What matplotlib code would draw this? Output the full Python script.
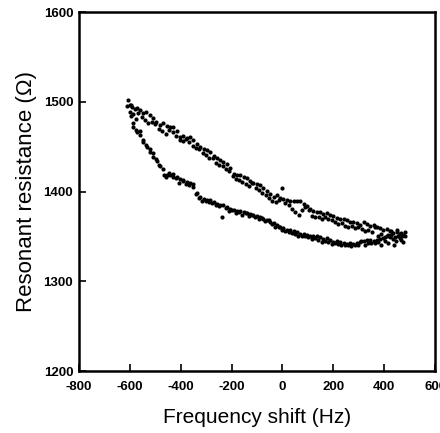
import numpy as np
import matplotlib
matplotlib.use('Agg')
import matplotlib.pyplot as plt

plt.rcParams['font.family'] = ['Liberation Sans', 'DejaVu Sans']

# 上支路 (频移增大方向)
up_x = [-607, -598, -590, -580, -571, -559, -548, -535, -520, -507, -495, -480, -468, -455,
        -440, -428, -415, -402, -390, -376, -363, -350, -336, -323, -310, -297, -284, -270,
        -258, -245, -232, -219, -205, -192, -178, -165, -152, -140, -126, -114, -101, -88,
        -75, -62, -48, -35, -22, -9, 4, 17, 30, 44, 57, 70, 83, 96, 109, 122, 135, 148, 161,
        174, 187, 200, 214, 227, 240, 253, 266, 279, 292, 306, 319, 332, 345, 358, 371, 384,
        397, 410, 423, 436, 449, 462, 472]
up_y = [1502, 1497, 1494, 1492, 1493, 1491, 1488, 1489, 1485, 1482, 1478, 1474, 1476, 1473,
        1472, 1472, 1467, 1461, 1462, 1460, 1461, 1457, 1453, 1450, 1448, 1446, 1444, 1440,
        1437, 1435, 1433, 1431, 1426, 1420, 1419, 1418, 1416, 1415, 1412, 1410, 1409, 1407,
        1404, 1401, 1397, 1394, 1396, 1393, 1392, 1391, 1390, 1389, 1390, 1389, 1386, 1384,
        1381, 1378, 1377, 1377, 1375, 1376, 1374, 1373, 1371, 1370, 1369, 1368, 1366, 1366,
        1365, 1363, 1366, 1364, 1362, 1363, 1360, 1359, 1357, 1358, 1356, 1354, 1355, 1353,
        1352]

# 上支路第二组采样点
up2_x = [-596, -588, -575, -566, -553, -541, -528, -514, -499, -486,
         -472, -458, -444, -430, -417, -404, -391, -378, -365, -352,
         -339, -326, -313, -300, -287, -274, -261, -248, -235, -222,
         -209, -196, -183, -170, -157, -144, -131, -118, -105, -92,
         -79, -66, -53, -40, -27, -14, -1, 12, 25, 38,
         51, 64, 77, 90, 103, 116, 129, 142, 155, 168,
         181, 194, 207, 220, 233, 246, 259, 272, 285, 298,
         311, 324, 337, 350, 363, 376, 389, 402, 415, 428,
         441, 454, 467, 480]
up2_y = [1497, 1486, 1481, 1488, 1483, 1480, 1476, 1478, 1475, 1470,
         1468, 1464, 1469, 1466, 1462, 1458, 1456, 1459, 1455, 1451,
         1449, 1447, 1443, 1441, 1438, 1437, 1432, 1430, 1429, 1425,
         1423, 1417, 1414, 1413, 1411, 1408, 1406, 1410, 1404, 1402,
         1398, 1396, 1393, 1390, 1388, 1391, 1404, 1387, 1385, 1381,
         1377, 1374, 1379, 1383, 1379, 1373, 1372, 1372, 1370, 1372,
         1369, 1368, 1366, 1364, 1365, 1362, 1360, 1362, 1359, 1361,
         1358, 1356, 1357, 1355, 1360, 1351, 1353, 1349, 1352, 1356,
         1349, 1351, 1346, 1355]

# 下支路 (频移减小方向)
dn_x = [480, 470, 460, 448, 436, 423, 410, 397, 384, 371, 358, 345, 332, 319, 306, 292,
        279, 266, 253, 240, 227, 214, 200, 187, 174, 161, 148, 135, 122, 109, 96, 83, 70,
        57, 44, 30, 17, 4, -9, -22, -35, -48, -62, -75, -88, -101, -114, -126, -140, -152,
        -165, -178, -192, -205, -219, -232, -245, -258, -270, -284, -297, -310, -323, -336,
        -350, -363, -376, -389, -402, -415, -428, -440, -455, -467, -480, -494, -507, -520,
        -533, -546, -559, -572, -585, -596, -611]
dn_y = [1350, 1351, 1348, 1345, 1347, 1349, 1350, 1348, 1347, 1346, 1345, 1346, 1346, 1345,
        1344, 1343, 1342, 1343, 1342, 1343, 1344, 1345, 1344, 1346, 1348, 1347, 1349, 1350,
        1350, 1351, 1352, 1353, 1353, 1355, 1356, 1357, 1357, 1359, 1361, 1363, 1365, 1366,
        1368, 1370, 1372, 1373, 1374, 1375, 1376, 1377, 1378, 1378, 1379, 1381, 1383, 1385,
        1385, 1386, 1388, 1391, 1391, 1392, 1394, 1398, 1409, 1410, 1411, 1413, 1414, 1416,
        1420, 1419, 1418, 1418, 1428, 1434, 1439, 1444, 1450, 1455, 1463, 1466, 1472, 1484,
        1495]

# 下支路第二组采样点
dn2_x = [475, 465, 452, 440, 427, 414, 401, 388, 375, 362,
         349, 336, 323, 310, 297, 284, 271, 258, 245, 232,
         219, 206, 193, 180, 167, 154, 141, 128, 115, 102,
         89, 76, 63, 50, 37, 24, 11, -2, -15, -28,
         -41, -54, -67, -80, -93, -106, -119, -132, -145, -158,
         -171, -184, -197, -210, -223, -236, -249, -262, -275, -288,
         -301, -314, -327, -340, -353, -366, -379, -392, -405, -418,
         -431, -444, -457, -470, -483, -496, -509, -522, -535, -548,
         -561, -574, -587, -600]
dn2_y = [1344, 1354, 1357, 1341, 1352, 1343, 1345, 1340, 1344, 1343,
         1343, 1343, 1341, 1345, 1340, 1341, 1339, 1340, 1341, 1341,
         1342, 1343, 1342, 1344, 1345, 1344, 1346, 1348, 1347, 1349,
         1350, 1351, 1351, 1353, 1354, 1355, 1356, 1357, 1360, 1361,
         1364, 1368, 1367, 1371, 1370, 1372, 1374, 1373, 1376, 1374,
         1377, 1376, 1380, 1378, 1382, 1372, 1384, 1385, 1387, 1388,
         1390, 1390, 1393, 1397, 1405, 1407, 1408, 1412, 1410, 1415,
         1416, 1421, 1416, 1425, 1430, 1436, 1443, 1447, 1452, 1457,
         1467, 1469, 1476, 1489]

x_ticks = [-800, -600, -400, -200, 0, 200, 400, 600]
x_ticklabels = ['-800', '-600', '-400', '-200', '0', '200', '400', '600']
y_ticks = [1200, 1300, 1400, 1500, 1600]
y_ticklabels = ['1200', '1300', '1400', '1500', '1600']

fig = plt.figure(figsize=(4.4, 4.33), dpi=100)
ax = fig.add_axes([0.179, 0.143, 0.81, 0.829])

for xs, ys in [(up_x, up_y), (up2_x, up2_y), (dn_x, dn_y), (dn2_x, dn2_y)]:
    ax.scatter(xs, ys, s=9, c='black', marker='o', linewidths=0)

ax.set_xlim(-800, 600)
ax.set_ylim(1200, 1600)
ax.set_xticks(x_ticks)
ax.set_xticklabels(x_ticklabels, fontweight='bold')
ax.set_yticks(y_ticks)
ax.set_yticklabels(y_ticklabels, fontweight='bold')
ax.tick_params(direction='in', length=5, width=1.2, labelsize=9.5)
ax.tick_params(axis='x', pad=7)
ax.tick_params(axis='y', pad=4)
for s in ax.spines.values():
    s.set_linewidth(1.8)

ax.set_xlabel('Frequency shift (Hz)', fontsize=15, labelpad=11)
ax.set_ylabel('Resonant resistance (Ω)', fontsize=16, labelpad=5)

fig.savefig('out.png', dpi=100)
